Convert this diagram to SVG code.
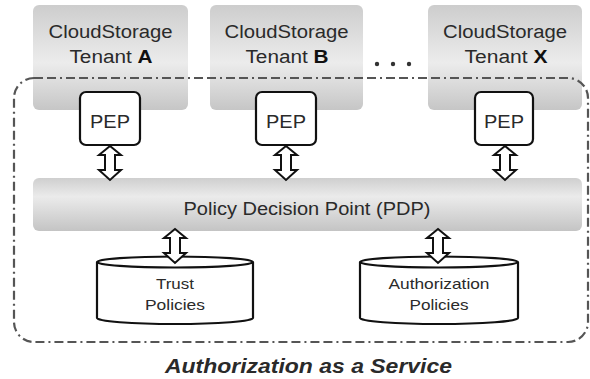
<svg xmlns="http://www.w3.org/2000/svg" width="590" height="379" viewBox="0 0 590 379">
<style>
.lbl{font-family:"Liberation Sans",Arial,sans-serif;fill:#2a2a2a;text-anchor:middle}
.pep{fill:#fff;stroke:#111;stroke-width:2.2}
.arr{fill:#fff;stroke:#111;stroke-width:2;stroke-linejoin:miter}
.cyl{fill:#fff;stroke:#111;stroke-width:2.2}
.bnd{fill:none;stroke:#555;stroke-width:2.2;stroke-dasharray:9 4 9 4 2 4}
</style>
<defs>
<linearGradient id="gT" x1="0" y1="0" x2="0" y2="1">
<stop offset="0" stop-color="#cdcdcd"/>
<stop offset="0.55" stop-color="#ececec"/>
<stop offset="1" stop-color="#c6c6c6"/>
</linearGradient>
<linearGradient id="gP" x1="0" y1="0" x2="0" y2="1">
<stop offset="0" stop-color="#cfcfcf"/>
<stop offset="0.35" stop-color="#ebebeb"/>
<stop offset="1" stop-color="#c4c4c4"/>
</linearGradient>
</defs>
<g id="tenantA">
<rect x="33" y="5" width="155" height="105" rx="6" fill="url(#gT)"/>
<text class="lbl" x="110.5" y="38" font-size="18" textLength="124" lengthAdjust="spacingAndGlyphs">CloudStorage</text>
<text class="lbl" x="111" y="63" font-size="18" textLength="83" lengthAdjust="spacingAndGlyphs">Tenant <tspan font-weight="bold" fill="#111">A</tspan></text>
</g>
<g id="tenantB">
<rect x="210" y="5" width="153" height="105" rx="6" fill="url(#gT)"/>
<text class="lbl" x="286.5" y="38" font-size="18" textLength="124" lengthAdjust="spacingAndGlyphs">CloudStorage</text>
<text class="lbl" x="287" y="63" font-size="18" textLength="83" lengthAdjust="spacingAndGlyphs">Tenant <tspan font-weight="bold" fill="#111">B</tspan></text>
</g>
<g id="dots" fill="#333">
<circle cx="377" cy="64" r="2.2"/>
<circle cx="393" cy="64" r="2.2"/>
<circle cx="409" cy="64" r="2.2"/>
</g>
<g id="tenantX">
<rect x="428" y="5" width="154" height="105" rx="6" fill="url(#gT)"/>
<text class="lbl" x="505" y="38" font-size="18" textLength="124" lengthAdjust="spacingAndGlyphs">CloudStorage</text>
<text class="lbl" x="506" y="63" font-size="18" textLength="83" lengthAdjust="spacingAndGlyphs">Tenant <tspan font-weight="bold" fill="#111">X</tspan></text>
</g>
<g id="boundary">
<rect class="bnd" x="14" y="78" width="574" height="264" rx="20"/>
</g>
<g id="pepA">
<rect class="pep" x="80" y="92" width="60" height="53" rx="6"/>
<text class="lbl" x="110" y="128" font-size="19" textLength="40" lengthAdjust="spacingAndGlyphs">PEP</text>
</g>
<g id="pepB">
<rect class="pep" x="256" y="92" width="60" height="53" rx="6"/>
<text class="lbl" x="286" y="128" font-size="19" textLength="40" lengthAdjust="spacingAndGlyphs">PEP</text>
</g>
<g id="pepX">
<rect class="pep" x="475" y="92" width="58" height="53" rx="6"/>
<text class="lbl" x="504" y="128" font-size="19" textLength="40" lengthAdjust="spacingAndGlyphs">PEP</text>
</g>
<g id="pdp">
<rect x="33" y="178" width="549" height="53" rx="6" fill="url(#gP)"/>
<text class="lbl" x="307" y="215" font-size="18" textLength="247" lengthAdjust="spacingAndGlyphs">Policy Decision Point (PDP)</text>
</g>
<g id="trust">
<path class="cyl" d="M97,262 L97,318 A78,6 0 0 0 253,318 L253,262 A78,5.5 0 0 0 97,262 A78,5.5 0 0 0 253,262"/>
<text class="lbl" x="175" y="289" font-size="15" textLength="38" lengthAdjust="spacingAndGlyphs">Trust</text>
<text class="lbl" x="175" y="310" font-size="15" textLength="60" lengthAdjust="spacingAndGlyphs">Policies</text>
</g>
<g id="authz">
<path class="cyl" d="M360,262 L360,318 A79,6 0 0 0 518,318 L518,262 A79,5.5 0 0 0 360,262 A79,5.5 0 0 0 518,262"/>
<text class="lbl" x="439" y="289" font-size="15" textLength="101" lengthAdjust="spacingAndGlyphs">Authorization</text>
<text class="lbl" x="439" y="310" font-size="15" textLength="59" lengthAdjust="spacingAndGlyphs">Policies</text>
</g>
<g id="connectors">
<path class="arr" d="M110,146 L121,155 L115,155 L115,170 L121,170 L110,180 L99,170 L105,170 L105,155 L99,155 Z"/>
<path class="arr" d="M286,146 L297,155 L291,155 L291,170 L297,170 L286,180 L275,170 L281,170 L281,155 L275,155 Z"/>
<path class="arr" d="M505,146 L516,155 L510,155 L510,170 L516,170 L505,180 L494,170 L500,170 L500,155 L494,155 Z"/>
<path class="arr" d="M175,229 L186,238 L180,238 L180,253 L186,253 L175,263 L164,253 L170,253 L170,238 L164,238 Z"/>
<path class="arr" d="M438,229 L449,238 L443,238 L443,253 L449,253 L438,263 L427,253 L433,253 L433,238 L427,238 Z"/>
</g>
<g id="caption">
<text class="lbl" x="308.5" y="373" font-size="21" font-weight="bold" font-style="italic" fill="#111" textLength="287" lengthAdjust="spacingAndGlyphs">Authorization as a Service</text>
</g>
</svg>
